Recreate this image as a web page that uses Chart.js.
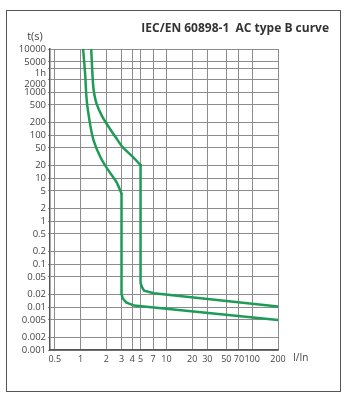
<!DOCTYPE html>
<html>
<head>
<meta charset="utf-8">
<script src="https://cdn.jsdelivr.net/npm/chart.js"></script>
<style>
  html, body { margin: 0; padding: 0; background: #fff; }
  #wrap { position: relative; width: 349px; height: 403px; }
  #frame { position: absolute; left: 6px; top: 10px; width: 333px; height: 380px; border: 1.5px solid #555; }
  canvas { position: absolute; left: 0; top: 0; }
</style>
</head>
<body>
<div id="wrap">
  <div id="frame"></div>
  <canvas id="curveChart" width="349" height="403"></canvas>
</div>
<script>
// Tripping curves, time t(s) against multiple of rated current I/In
const titleText = 'IEC/EN 60898-1  AC type B curve';

const xTicks = [0.5, 1, 2, 3, 4, 5, 7, 10, 20, 30, 50, 70, 100, 200];
const yTicks = [10000, 5000, 3600, 2000, 1000, 500, 200, 100, 50, 20, 10, 5, 2, 1,
                0.5, 0.2, 0.1, 0.05, 0.02, 0.01, 0.005, 0.002, 0.001];

// upper limit curve: thermal part, then magnetic drop at 5 In
const upperThermI = [1.33, 1.38, 1.42, 1.53, 1.79, 2.12, 2.54, 3.07, 4.06, 5];
const upperThermT = [10000, 2270, 1110, 546, 267, 156, 91, 53, 31, 20];
const upperMagI = [5, 5, 5.2, 5.5, 7.15, 200];
const upperMagT = [20, 0.036, 0.029, 0.024, 0.021, 0.0102];

// lower limit curve: thermal part, then magnetic drop at 3 In
const lowerThermI = [1.07, 1.13, 1.18, 1.29, 1.42, 1.71, 2.12, 2.63, 3];
const lowerThermT = [10000, 2620, 628, 180, 74, 30, 14.8, 7.9, 4.3];
const lowerMagI = [3, 3, 3.1, 3.4, 4.2, 200];
const lowerMagT = [4.3, 0.020, 0.0158, 0.0128, 0.0108, 0.0050];

const curveColor = '#1d9c57';
const textColor = '#444';
const fontFamily = '"Open Sans", "Noto Sans", sans-serif';

const toPoints = (xs, ys) => xs.map((x, i) => ({ x: x, y: ys[i] }));
const curve = (xs, ys, tension) => ({
  data: toPoints(xs, ys), borderColor: curveColor, borderWidth: 2.5,
  pointRadius: 0, tension: tension, fill: false, borderCapStyle: 'round'
});

const captions = {
  id: 'captions',
  afterDraw(chart) {
    const ctx = chart.ctx;
    ctx.save();
    ctx.fillStyle = '#333';
    ctx.textBaseline = 'middle';
    ctx.font = 'bold 12px ' + fontFamily;
    ctx.textAlign = 'right';
    ctx.fillText(titleText, 329, 29);
    ctx.fillStyle = textColor;
    ctx.font = '11px ' + fontFamily;
    ctx.textAlign = 'center';
    ctx.fillText('t(s)', 35, 37);
    ctx.font = '10px ' + fontFamily;
    ctx.textAlign = 'left';
    ctx.fillText('I/In', 293, 358);
    ctx.restore();
  }
};

// 1h and 2000 sit close together; push their labels down half a line
const yLabel = v => {
  if (v === 3600) return ['', '1h'];
  if (v === 2000) return ['', '2000'];
  return String(v);
};

new Chart(document.getElementById('curveChart'), {
  type: 'line',
  data: {
    datasets: [
      curve(upperThermI, upperThermT, 0.35),
      curve(upperMagI, upperMagT, 0),
      curve(lowerThermI, lowerThermT, 0.35),
      curve(lowerMagI, lowerMagT, 0)
    ]
  },
  options: {
    responsive: false,
    animation: false,
    layout: { padding: { left: 0, top: 49, right: 71, bottom: 33 } },
    plugins: { legend: { display: false }, tooltip: { enabled: false } },
    scales: {
      x: {
        type: 'logarithmic',
        min: 0.44,
        max: 200,
        afterBuildTicks: s => { s.ticks = xTicks.map(v => ({ value: v })); },
        afterFit: s => { s.height = 20; },
        grid: { color: '#8c8c8c', lineWidth: 1, drawTicks: false },
        border: { color: '#555', width: 1.5 },
        ticks: {
          autoSkip: false, maxRotation: 0, padding: 4, color: textColor,
          font: { family: fontFamily, size: 9 },
          callback: v => String(v)
        }
      },
      y: {
        type: 'logarithmic',
        min: 0.001,
        max: 10000,
        afterBuildTicks: s => { s.ticks = yTicks.map(v => ({ value: v })); },
        afterFit: s => { s.width = 50; },
        grid: { color: '#8c8c8c', lineWidth: 1, tickLength: 2 },
        border: { color: '#555', width: 1.5 },
        ticks: {
          autoSkip: false, padding: 2, color: textColor,
          font: { family: fontFamily, size: 9.5, lineHeight: 1.1 },
          callback: yLabel
        }
      }
    }
  },
  plugins: [captions]
});
</script>
</body>
</html>
